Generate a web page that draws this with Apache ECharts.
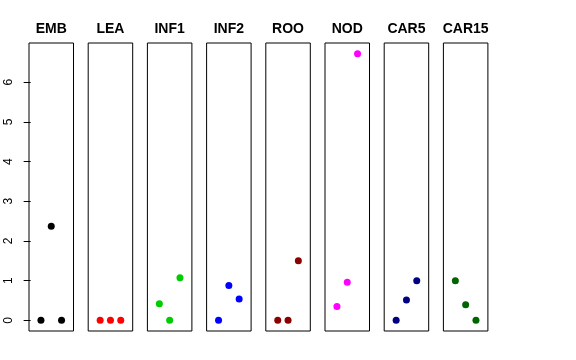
<!DOCTYPE html>
<html><head><meta charset="utf-8">
<script src="https://cdn.jsdelivr.net/npm/echarts@6/dist/echarts.min.js"></script>
<style>html,body{margin:0;padding:0;background:#fff}#c{width:576px;height:360px}</style>
</head><body><div id="c"></div>
<script>
const panels = ["EMB","LEA","INF1","INF2","ROO","NOD","CAR5","CAR15"];
const colors = ["#000000","#FF0000","#00CD00","#0000FF","#8B0000","#FF00FF","#000080","#006400"];
const xPos = [1,2,3];
const EMB = [0, 2.37, 0];
const LEA = [0, 0, 0];
const INF1 = [0.42, 0, 1.07];
const INF2 = [0, 0.88, 0.54];
const ROO = [0, 0, 1.50];
const NOD = [0.35, 0.96, 6.72];
const CAR5 = [0, 0.51, 1.00];
const CAR15 = [1.00, 0.39, 0];
const values = [EMB, LEA, INF1, INF2, ROO, NOD, CAR5, CAR15];
const yTicks = [0,1,2,3,4,5,6];

(function(){
const yMaxData = 6.72;
const yMin = -0.04*yMaxData, yMax = yMaxData*1.04;
const left0 = 29, step = 59.2, w = 44.5, gTop = 43, h = 288;
const grid = [], xAxis = [], yAxis = [], series = [], title = [];
panels.forEach((p, i) => {
  const l = left0 + i*step;
  grid.push({left: l, top: gTop, width: w, height: h, show: true, borderColor: '#000', borderWidth: 1, backgroundColor: 'transparent'});
  xAxis.push({gridIndex: i, type: 'value', min: -0.16, max: 4.16, show: false});
  yAxis.push({gridIndex: i, type: 'value', min: yMin, max: yMax, show: i === 0,
    splitLine: {show: false}, axisLine: {show: false},
    axisTick: {show: true, length: 7, lineStyle: {color: '#000'}, customValues: yTicks},
    axisLabel: {show: true, rotate: 90, margin: 14, color: '#000', fontSize: 12, fontFamily: 'Liberation Sans', customValues: yTicks}
  });
  title.push({text: p, left: l + w/2, top: 22.5, textAlign: 'center', padding: 0,
    textStyle: {fontSize: 14, fontWeight: 'bold', color: '#000', fontFamily: 'Liberation Sans'}});
  series.push({type: 'scatter', xAxisIndex: i, yAxisIndex: i, symbolSize: 7,
    itemStyle: {color: colors[i], opacity: 1}, data: xPos.map((x, k) => [x, values[i][k]]), silent: true});
});
const chart = echarts.init(document.getElementById('c'), null, {renderer: 'canvas'});
chart.setOption({animation: false, backgroundColor: '#fff', title, grid, xAxis, yAxis, series});
})();
</script></body></html>
